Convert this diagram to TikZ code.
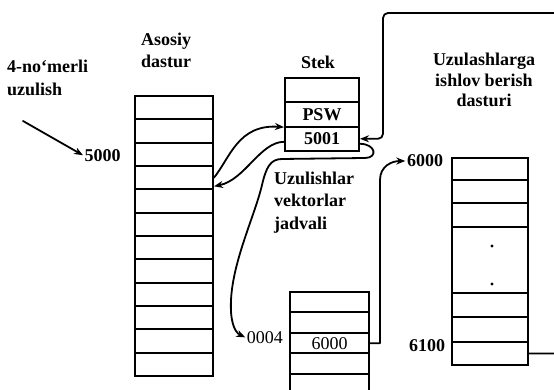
\documentclass[tikz,border=0pt]{standalone}
\usepackage{fontspec}
\setmainfont{Liberation Serif}
\usetikzlibrary{arrows.meta,calc}
\newcommand\dlbl{\fontsize{18}{22}\selectfont\bfseries}
\newcommand\dreg{\fontsize{18}{22}\selectfont}
\begin{document}
\begin{tikzpicture}[x=1pt,y=1pt,
  cell/.style={draw,line width=2pt,inner sep=0pt,font=\dlbl},
  lab/.style={inner sep=0pt,font=\dlbl},
  conn/.style={line width=1.8pt,line cap=round,line join=round},
  arr/.style={conn,-{Stealth[length=9pt,width=7pt]}}]
\clip (0,0) rectangle (554,390);
\fill[white] (0,0) rectangle (554,390);

% main program (Asosiy dastur)
\foreach \i in {1,...,12}{
  \node[cell,minimum width=78pt,minimum height=23.33pt] (m\i) at (174,{294-(\i-0.5)*23.33}) {};
}

% stack (Stek)
\node[cell,minimum width=74pt,minimum height=24.33pt] (s1) at (322,299.8) {};
\node[cell,minimum width=74pt,minimum height=24.33pt] (s2) at (322,275.5) {PSW};
\node[cell,minimum width=74pt,minimum height=24.33pt] (s3) at (322,251.2) {5001};

% interrupt vector table
\node[cell,minimum width=79pt,minimum height=20.5pt] (v1) at (329.5,87.75) {};
\node[cell,minimum width=79pt,minimum height=20.5pt] (v2) at (329.5,67.25) {};
\node[cell,minimum width=79pt,minimum height=20.5pt,font=\dreg] (v3) at (329.5,46.75) {6000};
\node[cell,minimum width=79pt,minimum height=20.5pt] (v4) at (329.5,26.25) {};
\node[cell,minimum width=79pt,minimum height=20.5pt] (v5) at (329.5,5.75) {};

% handler program
\node[cell,minimum width=76pt,minimum height=22pt] (h1) at (490,221) {};
\node[cell,minimum width=76pt,minimum height=23pt] (h2) at (490,198.5) {};
\node[cell,minimum width=76pt,minimum height=24pt] (h3) at (490,175) {};
\node[cell,minimum width=76pt,minimum height=66pt] (h4) at (490,130) {};
\node[cell,minimum width=76pt,minimum height=24pt] (h5) at (490,85) {};
\node[cell,minimum width=76pt,minimum height=25pt] (h6) at (490,60.5) {};
\node[cell,minimum width=76pt,minimum height=23pt] (h7) at (490,36.5) {};
\fill (492,144) circle (1.6);
\fill (492,106) circle (1.6);

% labels
\node[lab,align=left,anchor=west,font={\fontsize{18}{23}\selectfont\bfseries}] (l4no) at (7,312.5) {4-no‘merli\\uzulish};
\node[lab,align=left,anchor=west] (lasosiy) at (141,340) {Asosiy\\dastur};
\node[lab] (lstek) at (318,328) {Stek};
\node[lab,align=center,font={\fontsize{18}{20.5}\selectfont\bfseries}] (lhand) at (484,310) {Uzulashlarga\\ishlov berish\\dasturi};
\node[lab,align=left,anchor=west,font={\fontsize{18}{22.5}\selectfont\bfseries}] (lvec) at (274,187.5) {Uzulishlar\\vektorlar\\jadvali};
\node[lab] (l5000) at (102.5,234) {5000};
\node[lab,font=\dreg,anchor=east] (l0004) at (283,52) {0004};
\node[lab] (l6000) at (425,229) {6000};
\node[lab] (l6100) at (427,44) {6100};

% connectors
\coordinate (src) at (23,269);
\draw[arr,shorten >=1.5pt] (src) -- (l5000.west);
\draw[arr] (m4.east) .. controls (230,232) and (238,266) .. ($(s3.north west)+(0,-1.5)$);
\draw[arr] ($(s3.west)+(0,-3)$) .. controls (260,248) and (245,210) .. ($(m4.south east)+(0,4)$);
\draw[arr,rounded corners=5pt] (h7.east) -- (562,36.5) -- (562,377) -- (383,377) -- (383,251.2) -- (s3.east);
\draw[arr,shorten >=1.5pt] ($(s3.east)+(0,-5)$) .. controls (376,246) and (378,232) .. (365,232)
  -- (282,231) .. controls (270,231) and (266,222) .. (262,205)
  .. controls (255,175) and (233,130) .. (231,90)
  .. controls (230,70) and (234,58) .. (l0004.west);
\draw[arr,shorten >=1.5pt] (v3.east) -- (380,46.75) -- (380,210) .. controls (380,224) and (392,229) .. (l6000.west);
\end{tikzpicture}
\end{document}
